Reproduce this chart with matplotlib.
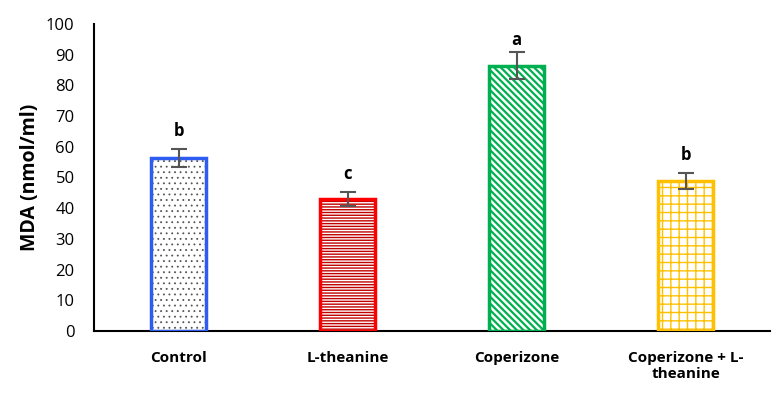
import matplotlib
matplotlib.use("Agg")
import matplotlib.pyplot as plt

categories = ["Control", "L-theanine", "Coperizone", "Coperizone + L-\ntheanine"]
values = [56.3, 43.0, 86.3, 48.9]
errors = [2.8, 2.2, 4.4, 2.5]
letters = ["b", "c", "a", "b"]
edge_colors = ["#2E5CF0", "#FF0000", "#00B050", "#FFC000"]
hatch_colors = ["#555555", "#C00000", "#00B050", "#FFC000"]
hatches = ["...", "------", "\\\\\\\\\\", "++"]
hatch_lws = [0.6, 1.0, 1.6, 1.0]
letter_gaps = [3.0, 3.0, 1.2, 3.0]

plt.rcParams['font.family'] = ['Open Sans', 'DejaVu Sans']

fig = plt.figure(figsize=(7.77, 3.97), dpi=100)
ax = fig.add_axes([0.121, 0.166, 0.870, 0.774])

x = list(range(len(categories)))
w = 0.32
for i in x:
    with plt.rc_context({'hatch.linewidth': hatch_lws[i]}):
        ax.bar(i, values[i], width=w, color="white", edgecolor=hatch_colors[i],
               hatch=hatches[i], linewidth=0, zorder=2)
    ax.bar(i, values[i], width=w, fill=False, edgecolor=edge_colors[i],
           linewidth=2.5, zorder=3)
ax.errorbar(x, values, yerr=errors, fmt="none", ecolor="#555555",
            elinewidth=1.5, capsize=6, capthick=1.5, zorder=4)
for i in x:
    ax.text(i, values[i] + errors[i] + letter_gaps[i], letters[i], ha="center",
            va="bottom", fontsize=12, fontweight="bold")

ax.set_xlim(-0.5, 3.5)
ax.set_ylim(0, 100)
ax.set_yticks(range(0, 101, 10))
ax.set_xticks(x)
ax.set_xticklabels(categories, fontsize=11, fontweight="bold")
ax.tick_params(axis="y", length=0, labelsize=12, pad=14)
ax.tick_params(axis="x", length=0, pad=14)
ax.set_ylabel("MDA (nmol/ml)", fontsize=14, fontweight="bold", labelpad=4)
for s in ["top", "right"]:
    ax.spines[s].set_visible(False)
ax.spines["left"].set_linewidth(1.5)
ax.spines["bottom"].set_linewidth(1.5)

fig.savefig("out.png", dpi=100)
